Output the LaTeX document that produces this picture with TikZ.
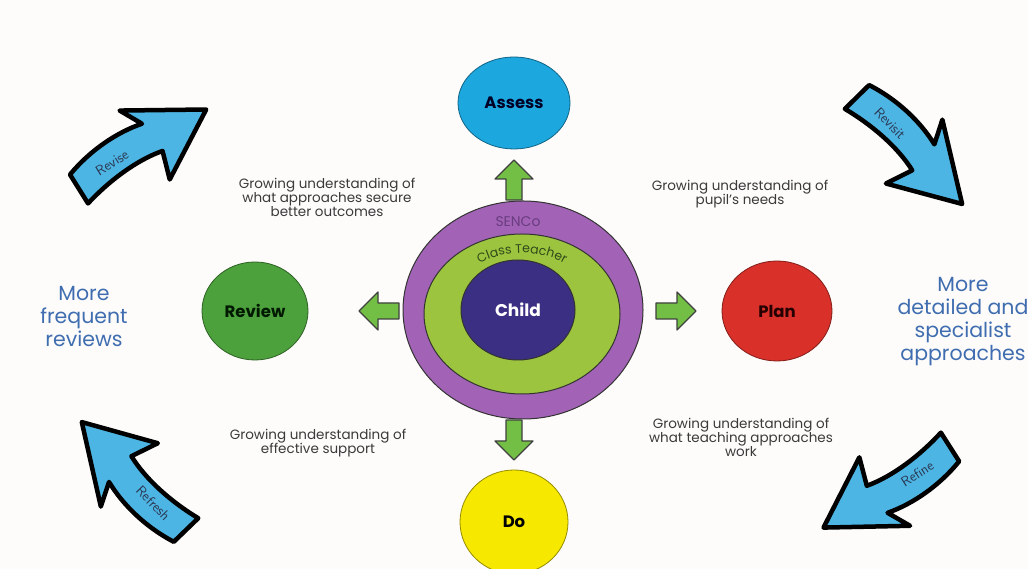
\documentclass[tikz,border=0pt]{standalone}
\usepackage{fontspec}
\setmainfont{Poppins}
\usetikzlibrary{shapes.geometric,decorations.text}
\definecolor{bgc}{HTML}{FDFCFA}
\definecolor{assessblue}{HTML}{1DA7DF}
\definecolor{reviewgreen}{HTML}{4CA13D}
\definecolor{planred}{HTML}{D9302A}
\definecolor{doyellow}{HTML}{F7E800}
\definecolor{sencopurple}{HTML}{A263B6}
\definecolor{classgreen}{HTML}{9CC43E}
\definecolor{childnavy}{HTML}{3A2F82}
\definecolor{arrowgreen}{HTML}{73BF45}
\definecolor{arrowblue}{HTML}{4DB5E3}
\definecolor{greytext}{HTML}{3A3A3A}
\definecolor{sidetext}{HTML}{3F6DB0}
\definecolor{sencotext}{HTML}{6A3C80}
\definecolor{cttext}{HTML}{2F4A1A}
\definecolor{arrowtextc}{HTML}{2A3550}
\tikzset{
  stage/.style={ellipse, draw=#1!60!black, line width=0.8pt, inner sep=0pt,
    font=\fontsize{16.5}{19}\selectfont\bfseries},
  ring/.style={ellipse, draw=black!80, line width=1pt, inner sep=0pt},
  growtext/.style={align=center, text=greytext, font=\fontsize{13.5}{14}\selectfont},
  sidelabel/.style={align=center, text=sidetext, font=\fontsize{20.5}{23}\selectfont},
  arrowtext/.style={text=arrowtextc, inner sep=0pt, font=\sffamily\fontsize{14}{14}\selectfont},
  pics/garrow/.style={code={
    \draw[fill=arrowgreen, draw=black!75, line width=1.2pt, line join=round]
      (0,-8) -- (21,-8) -- (21,-19) -- (40,0) -- (21,19) -- (21,8) -- (0,8) -- cycle;}},
  pics/barrow/.style 2 args={code={
    \draw[fill=arrowblue, draw=black, line width=4.5pt, line join=round, line cap=round]
      (0,17) .. controls (30,27) and (62,28) .. (88,22)
      -- (76,45) -- (150,0) -- (82,-40) -- (91,-12)
      .. controls (64,-6) and (30,-9) .. (0,-17) -- cycle;
    \node[arrowtext, rotate=#2, transform shape] at (42,5) {#1};}}
}
\begin{document}
\begin{tikzpicture}[x=1pt,y=1pt]
\useasboundingbox (0,0) rectangle (1028,569);
\fill[bgc] (0,0) rectangle (1028,569);

% stage circles
\node[stage=assessblue, fill=assessblue, text=black!85!blue, minimum width=112pt, minimum height=92pt] (assess) at (514,466) {Assess};
\node[stage=reviewgreen, fill=reviewgreen, text=black!90!green, minimum width=106pt, minimum height=98pt] (review) at (255,258) {Review};
\node[stage=planred, fill=planred, text=black!85!red, minimum width=110pt, minimum height=100pt] (plan) at (777,258) {Plan};
\node[stage=doyellow, fill=doyellow, text=black, minimum width=108pt, minimum height=104pt] (do) at (514,47) {Do};

% central rings
\node[ring, fill=sencopurple, minimum width=240pt, minimum height=218pt] (senco) at (523,259) {};
\node[ring, fill=classgreen, minimum width=196pt, minimum height=160pt] (class) at (522,255) {};
\node[ring, fill=childnavy, minimum width=114pt, minimum height=100pt, text=white,
      font=\fontsize{17}{19}\selectfont\bfseries] (child) at (518,259) {Child};
\node[text=sencotext, font=\fontsize{14}{15}\selectfont] (sencolabel) at (518,347) {SENCo};
\path[decorate, decoration={text along path, text align=center,
      text={|\fontsize{12.5}{13}\selectfont\color{cttext}|Class Teacher}}]
  (522,255) ++(168:76pt and 61pt) arc[start angle=168, end angle=12, x radius=76pt, y radius=61pt];

% green block arrows
\pic[rotate=90] (up) at (514,369) {garrow};
\pic[rotate=-90] (down) at (514,149) {garrow};
\pic[rotate=180] (left) at (399,258) {garrow};
\pic (right) at (656,258) {garrow};

% blue curved arrows
\pic[rotate=32] (revise) at (79,380) {barrow={Revise}{0}};
\pic[rotate=-45.5] (revisit) at (857,472) {barrow={Revisit}{0}};
\pic[rotate=212.5] (refine) at (950,122) {barrow={Refine}{180}};
\pic[rotate=134] (refresh) at (186,39) {barrow={Refresh}{180}};

% texts
\node[growtext] (t1) at (327,372) {Growing understanding of\\what approaches secure\\better outcomes};
\node[growtext] (t2) at (740,375) {Growing understanding of\\pupil’s needs};
\node[growtext] (t3) at (318,126) {Growing understanding of\\effective support};
\node[growtext] (t4) at (741,132) {Growing understanding of\\what teaching approaches\\work};
\node[sidelabel] (s1) at (84,252) {More\\frequent\\reviews};
\node[sidelabel] (s2) at (963,247) {More\\detailed and\\specialist\\approaches};
\end{tikzpicture}
\end{document}
